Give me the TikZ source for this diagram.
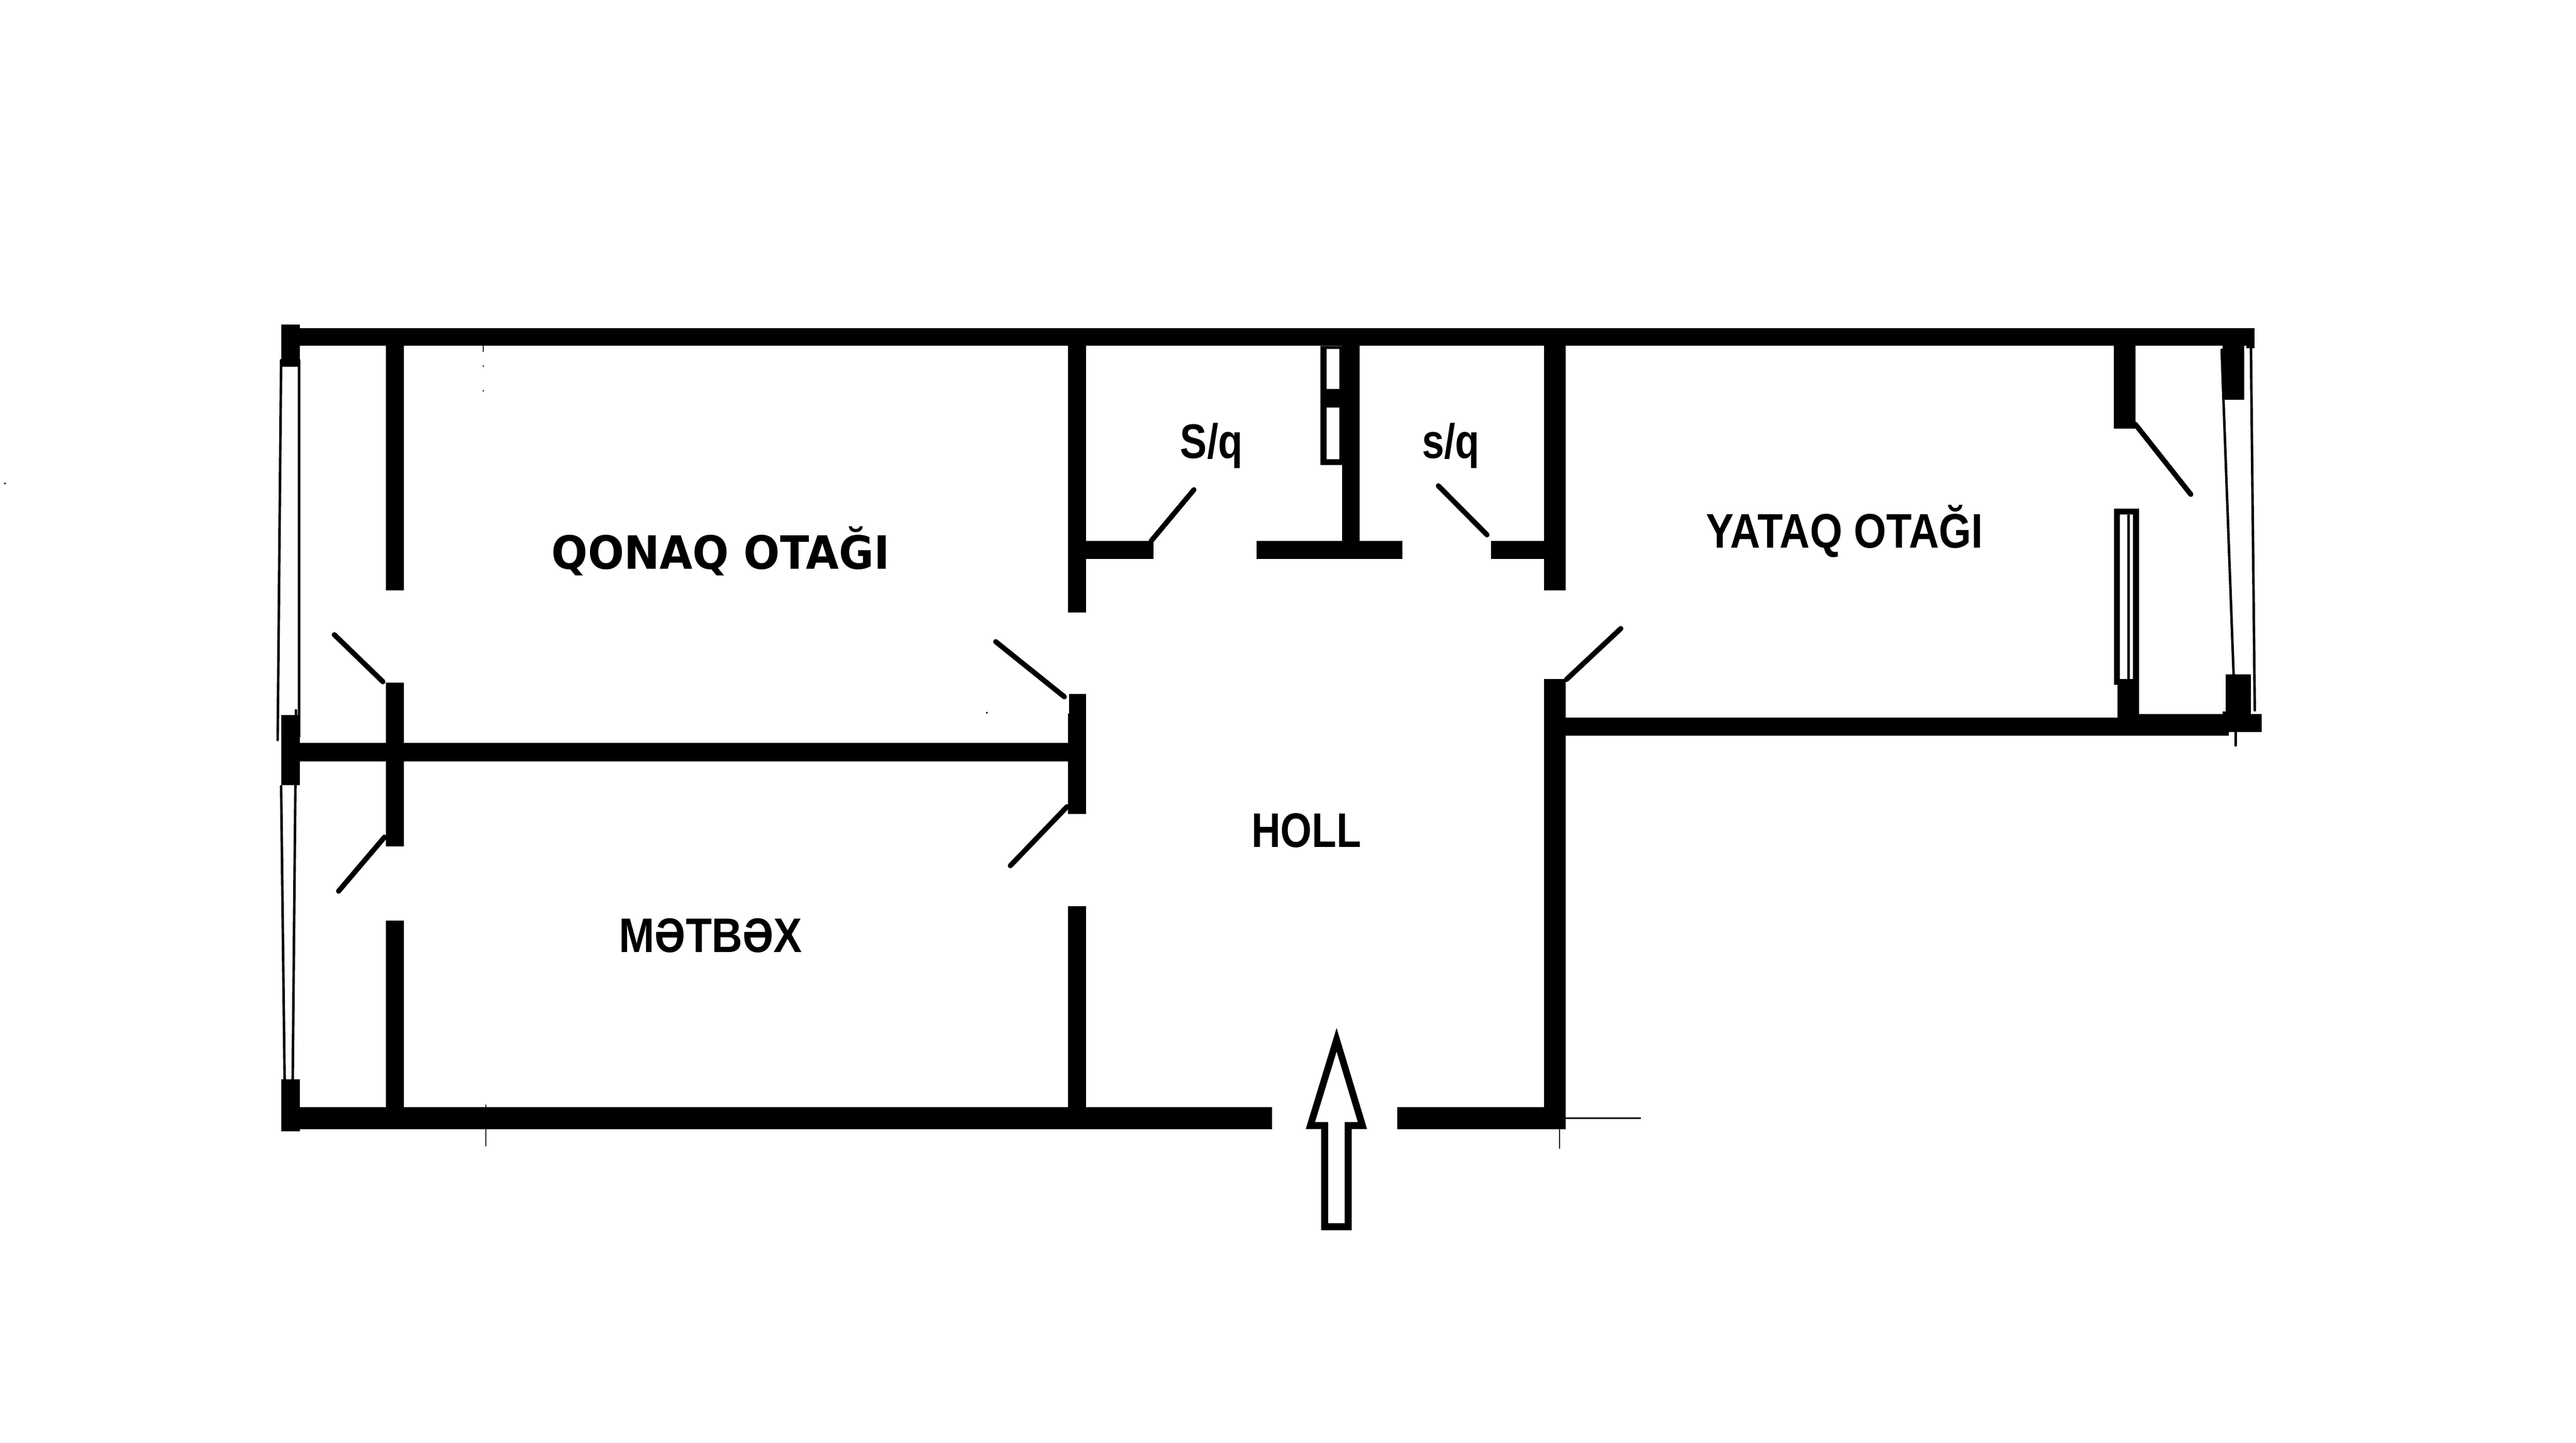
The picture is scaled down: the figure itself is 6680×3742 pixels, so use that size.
\documentclass[tikz,border=0pt]{standalone}
\usepackage{fontspec}
\setmainfont{Liberation Sans}
\newfontfamily\widelabel{DejaVu Sans}
\tikzset{
  x=0.01cm, y=-0.01cm,
  wallpart/.style={fill=black},
  doorleaf/.style={draw=black, line width=3.8pt, line cap=round},
  glassline/.style={draw=black, line width=1.85pt, line cap=round},
  thinmark/.style={draw=black, line width=1pt},
  roomlabel/.style={anchor=base west, inner sep=0pt, font=\fontsize{35.8}{40}\selectfont\bfseries},
}
\begin{document}
\begin{tikzpicture}
  \useasboundingbox (0,0) rectangle (6680,3742);
  \fill[white] (0,0) rectangle (6680,3742);
  % outer walls
  \fill[wallpart] (777,851) rectangle (5846,897);
  \fill[wallpart] (5825,897) rectangle (5846,903);
  \fill[wallpart] (777,1927) rectangle (2769,1974);
  \fill[wallpart] (777,2871) rectangle (3299,2928);
  \fill[wallpart] (3623,2871) rectangle (4060,2928);
  \fill[wallpart] (730,842) rectangle (777,951);
  \fill[wallpart] (730,1855) rectangle (777,2036);
  \fill[wallpart] (730,2799) rectangle (777,2934);
  % inner walls
  \fill[wallpart] (1001,897) rectangle (1048,1531);
  \fill[wallpart] (1001,1770) rectangle (1048,2195);
  \fill[wallpart] (1001,2388) rectangle (1048,2871);
  \fill[wallpart] (2769,897) rectangle (2816,1588);
  \fill[wallpart] (2772,1799) rectangle (2816,1850);
  \fill[wallpart] (2769,1850) rectangle (2816,2111);
  \fill[wallpart] (2769,2350) rectangle (2816,2871);
  \fill[wallpart] (4004,897) rectangle (4060,1531);
  \fill[wallpart] (4004,1761) rectangle (4060,2928);
  \fill[wallpart] (2816,1403) rectangle (2991,1450);
  \fill[wallpart] (3258,1403) rectangle (3636,1450);
  \fill[wallpart] (3866,1403) rectangle (4004,1450);
  \fill[wallpart] (3480,897) rectangle (3526,1403);
  % shaft
  \fill[wallpart, even odd rule] (3424,897) rectangle (3480,1206)
    (3440,905) rectangle (3473,1009)
    (3440,1057) rectangle (3473,1191);
  % bedroom
  \fill[wallpart] (4060,1861) rectangle (5491,1908);
  \fill[wallpart] (5491,1776) rectangle (5547,1908);
  \fill[wallpart] (5547,1852) rectangle (5780,1908);
  \fill[wallpart] (5780,1852) rectangle (5865,1899);
  \fill[wallpart] (5763,1845) rectangle (5772,1852);
  \fill[wallpart] (5482,897) rectangle (5537,1112);
  \fill[wallpart, even odd rule] (5482,1319) rectangle (5547,1776)
    (5497,1334) rectangle (5531,1761);
  \fill[wallpart] (5516,1334) rectangle (5523,1776);
  \fill[wallpart] (5763,897) rectangle (5819,1037);
  \fill[wallpart] (5772,1749) rectangle (5837,1852);
  % doors
  \draw[doorleaf] (867,1646) -- (993,1768);
  \draw[doorleaf] (997,2171) -- (878,2311);
  \draw[doorleaf] (2582,1664) -- (2760,1807);
  \draw[doorleaf] (2767,2092) -- (2620,2245);
  \draw[doorleaf] (2985,1403) -- (3096,1270);
  \draw[doorleaf] (3730,1260) -- (3856,1387);
  \draw[doorleaf] (4062,1762) -- (4203,1630);
  \draw[doorleaf] (5537,1100) -- (5681,1282);
  % windows
  \draw[glassline] (729,934) -- (720,1919);
  \draw[glassline] (776,934) -- (776,1910);
  \draw[glassline] (729,2039) -- (738,2799);
  \draw[glassline] (766,2037) -- (759,2799);
  \draw[glassline] (5761,907) -- (5792,1749);
  \draw[glassline] (5837,903) -- (5847,1842);
  \draw[glassline] (767,1842) -- (767,1855);
  \draw[glassline] (5797,1899) -- (5797,1933);
  % small marks
  \draw[thinmark] (4060,2900) -- (4255,2900);
  \draw[thinmark] (4044,2928) -- (4044,2979);
  \draw[thinmark] (1260,2865) -- (1260,2871);
  \draw[thinmark] (1260,2928) -- (1260,2972);
  \draw[thinmark] (1253,897) -- (1253,913);
  \draw[thinmark] (1253,947) -- (1253,951);
  \draw[thinmark] (1253,1012) -- (1253,1016);
  \draw[thinmark] (2559,1846) -- (2559,1850);
  \draw[thinmark] (13,1252) -- (13,1256);
  % entrance arrow
  \fill[wallpart, even odd rule]
    (3466,2666) -- (3545,2928) -- (3505,2928) -- (3505,3190) -- (3426,3190) -- (3426,2928) -- (3386,2928) -- cycle
    (3466,2727) -- (3521,2910) -- (3487,2910) -- (3487,3172) -- (3444,3172) -- (3444,2910) -- (3410,2910) -- cycle;
  % room names
  \node[roomlabel] (qonaq) at (1430,1475) {\widelabel\bfseries\fontsize{33.8}{40}\selectfont\addfontfeature{FakeStretch=.93}QONAQ OTAĞI};
  \node[roomlabel] (metbex) at (1605,2469) {\addfontfeature{FakeStretch=.88}MƏTBƏX};
  \node[roomlabel] (yataq) at (4424,1421) {\addfontfeature{FakeStretch=.86}YATAQ OTAĞI};
  \node[roomlabel] (holl) at (3245,2197) {\addfontfeature{FakeStretch=.83}HOLL};
  \node[roomlabel] (hamam) at (3060,1188) {\addfontfeature{FakeStretch=.83}S/q};
  \node[roomlabel] (tualet) at (3687,1188) {\addfontfeature{FakeStretch=.82}s/q};
\end{tikzpicture}
\end{document}
